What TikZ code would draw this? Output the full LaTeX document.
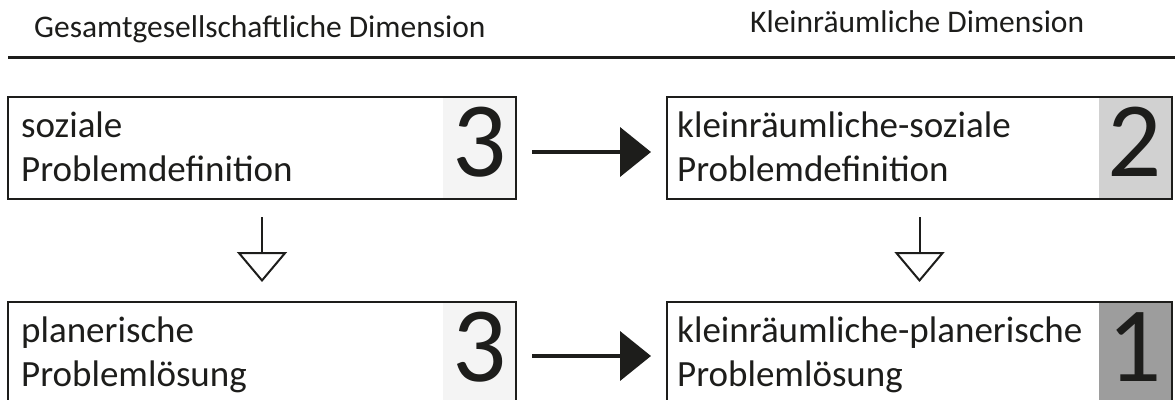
\documentclass[tikz,border=0pt]{standalone}
\usepackage{fontspec}
\setmainfont{Carlito}
\usetikzlibrary{arrows.meta}
\definecolor{ink}{HTML}{1D1D1B}
\definecolor{shadeA}{HTML}{F4F4F4}
\definecolor{shadeB}{HTML}{D1D1D1}
\definecolor{shadeC}{HTML}{9D9D9D}
\begin{document}
\begin{tikzpicture}[x=1pt,y=-1pt,
  hdr/.style={font=\fontsize{31.5}{36}\selectfont, anchor=base west, inner sep=0pt, text=ink},
  box/.style={draw=ink, line width=2pt, anchor=north west, minimum height=102pt, inner sep=0pt, outer sep=0pt},
  shadebox/.style={anchor=north east, minimum width=73pt, minimum height=102pt, inner sep=0pt, outer sep=0pt},
  lbl/.style={font=\fontsize{37}{44}\selectfont, anchor=base west, inner sep=0pt, text=ink},
  num/.style={font=\fontsize{107}{110}\selectfont, anchor=base, inner sep=0pt, text=ink},
  flow/.style={draw=ink, fill=ink, line width=4pt, -{Triangle[length=31pt,width=49pt]}, shorten <=16pt, shorten >=16pt},
  down/.style={draw=ink, line width=2pt, -{Triangle[open, fill=white, length=30pt, width=50pt]}, shorten <=18pt, shorten >=20pt}
]
\useasboundingbox (0,0) rectangle (1175,399);
\clip (0,0) rectangle (1175,399);

% headers
\node[hdr] (hl) at (34,37) {Gesamtgesellschaftliche Dimension};
\node[hdr] (hr) at (750,32) {Kleinräumliche Dimension};
\draw[ink, line width=3pt] (8,57) -- (1175,57);

% shaded number areas
\node[shadebox, fill=shadeA] (sTL) at (516,97) {};
\node[shadebox, fill=shadeB] (sTR) at (1172,97) {};
\node[shadebox, fill=shadeA] (sBL) at (516,302) {};
\node[shadebox, fill=shadeC] (sBR) at (1172,302) {};

% boxes
\node[box, minimum width=508pt] (tl) at (8,97) {};
\node[box, minimum width=505pt] (tr) at (667,97) {};
\node[box, minimum width=508pt] (bl) at (8,302) {};
\node[box, minimum width=505pt] (br) at (667,302) {};

% labels
\node[lbl] (tl1) at (21,137) {soziale};
\node[lbl] (tl2) at (21,181) {Problemdefinition};
\node[lbl] (tr1) at (677,137) {kleinräumliche-soziale};
\node[lbl] (tr2) at (677,181) {Problemdefinition};
\node[lbl] (bl1) at (21,342) {planerische};
\node[lbl] (bl2) at (21,386) {Problemlösung};
\node[lbl] (br1) at (677,342) {kleinräumliche-planerische};
\node[lbl] (br2) at (677,386) {Problemlösung};

% numbers
\node[num] (nTL) at (479.5,176) {3};
\node[num] (nTR) at (1135,176) {2};
\node[num] (nBL) at (479.5,381) {3};
\node[num] (nBR) at (1135,381) {1};

% connectors
\draw[flow] ([yshift=-4pt]tl.east) -- ([yshift=-4pt]tr.west);
\draw[flow] ([yshift=-3pt]bl.east) -- ([yshift=-3pt]br.west);
\draw[down] (tl.south) -- (bl.north);
\draw[down] (tr.south) -- (br.north);
\end{tikzpicture}
\end{document}
